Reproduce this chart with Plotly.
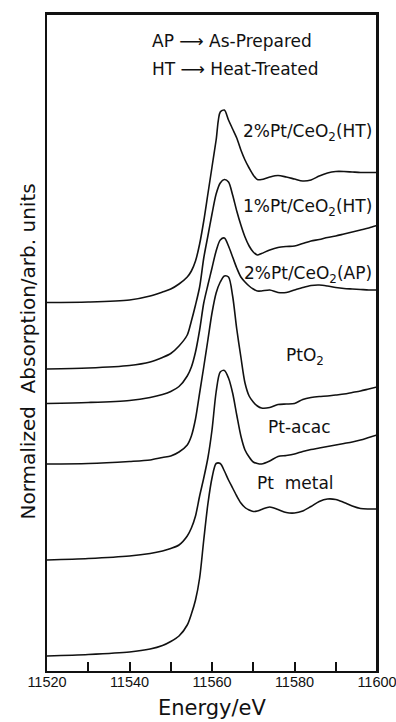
import plotly.graph_objects as go

energy = [11520, 11530, 11540, 11545, 11548, 11550, 11552, 11554, 11555, 11556,
          11557, 11558, 11559, 11560, 11561, 11562, 11563, 11564, 11565, 11566,
          11567, 11568, 11569, 11570, 11571, 11572, 11574, 11576, 11578, 11580,
          11582, 11584, 11586, 11588, 11590, 11592, 11594, 11596, 11598, 11600]

pt2_ceo2_ht = [368.5, 369, 371, 375, 379, 382, 387, 394, 400, 410,
               427, 450, 477, 504, 531, 559, 561, 551, 542, 533,
               521, 511, 503, 496, 491.5, 491.5, 494, 495.5, 494, 492,
               490, 491, 495, 498, 499.5, 499.5, 499, 498.5, 498.5, 498.5]

pt1_ceo2_ht = [302, 303, 305.5, 309, 313.5, 317.5, 325, 336, 350, 366,
               384, 413, 435, 457, 477, 488, 491.5, 489, 476, 460,
               446, 434, 425, 419, 416, 417.5, 421, 423.5, 424.5, 425,
               427.5, 430, 431.5, 433.5, 435, 437, 439, 441, 443, 445.5]

pt2_ceo2_ap = [267.5, 268.5, 270.5, 273.5, 276.5, 279.5, 284.5, 295, 304, 319,
               341, 368, 386, 403, 420, 431, 433, 425, 414, 403,
               394, 389, 385, 382, 380, 380, 381, 378.5, 378.5, 381,
               383.5, 385.5, 386, 385, 383.5, 382.5, 382, 381.5, 381, 381]

pto2 = [207, 207.5, 209.5, 211, 213.5, 215, 219, 226, 235, 252,
        278, 304, 331, 358, 378, 389, 395, 394, 375, 342,
        314, 288, 275, 269, 265, 263, 263.5, 266.5, 267, 267.5,
        271.5, 273.5, 274.5, 275, 276, 277, 278.5, 280, 282, 284]

pt_acac = [111, 112.5, 115, 117.5, 120, 122.5, 126, 135, 143, 155,
           175, 193, 213, 241, 279, 299, 300.5, 293, 278, 256,
           235, 221, 214, 209, 207.5, 207, 210, 214.5, 215.5, 217,
           219.5, 221.5, 223, 224.5, 226, 227.5, 229, 231, 233.5, 236]

pt_metal = [15, 16.5, 19, 22, 25.5, 29.5, 35, 46, 57, 71,
            93, 131, 167, 193, 207.5, 207.5, 200, 191, 183, 175,
            168, 163.5, 161, 159.5, 160, 161.5, 164, 161.5, 158.5, 158,
            160, 164.5, 169.5, 172, 171.5, 168.5, 165, 162.5, 162, 162]

series = [
    ("2%Pt/CeO<sub>2</sub>(HT)", pt2_ceo2_ht),
    ("1%Pt/CeO<sub>2</sub>(HT)", pt1_ceo2_ht),
    ("2%Pt/CeO<sub>2</sub>(AP)", pt2_ceo2_ap),
    ("PtO<sub>2</sub>", pto2),
    ("Pt-acac", pt_acac),
    ("Pt  metal", pt_metal),
]

tick_vals = [11520, 11540, 11560, 11580, 11600]
tick_text = ["11520", "11540", "11560", "11580", "11600"]
minor_tick_vals = [11530, 11550, 11570, 11590]

# label centres (energy, arb. units)
label_pos = [
    (11583.2, 539),
    (11583.2, 464),
    (11583.3, 397),
    (11582.6, 315),
    (11581.3, 244),
    (11580.3, 188),
]

FONT = "DejaVu Sans"
INK = "#111111"

# plot-area geometry in pixels (for paper-coordinate conversions)
L, R, T, B = 46.5, 377.0, 14.0, 671.0


def px_to_paper(x, y):
    return (x - L) / (R - L), (B - y) / (B - T)


fig = go.Figure()
for name, vals in series:
    fig.add_trace(go.Scatter(
        x=energy, y=vals, mode="lines", name=name,
        line=dict(color=INK, width=1.6, shape="spline", smoothing=0.8),
        showlegend=False, hoverinfo="skip"))

for (name, _), (lx, ly) in zip(series, label_pos):
    fig.add_annotation(x=lx, y=ly, xref="x", yref="y", text=name,
                       xanchor="center", yanchor="middle",
                       showarrow=False, font=dict(family=FONT, size=17, color=INK))

ax, ay = px_to_paper(150, 41.5)
fig.add_annotation(x=ax, y=ay, xref="paper", yref="paper",
                   xanchor="left", yanchor="middle",
                   text="AP \u27f6 As-Prepared", showarrow=False,
                   font=dict(family=FONT, size=17, color=INK))
hx, hy = px_to_paper(150, 68.5)
fig.add_annotation(x=hx, y=hy, xref="paper", yref="paper",
                   xanchor="left", yanchor="middle",
                   text="HT \u27f6 Heat-Treated", showarrow=False,
                   font=dict(family=FONT, size=17, color=INK))

yx, yy = px_to_paper(27, 352)
fig.add_annotation(x=yx, y=yy, xref="paper", yref="paper",
                   xanchor="center", yanchor="middle",
                   text="Normalized  Absorption/arb. units", textangle=-90,
                   showarrow=False, font=dict(family=FONT, size=20, color=INK))
ex, ey = px_to_paper(212, 708)
fig.add_annotation(x=ex, y=ey, xref="paper", yref="paper",
                   xanchor="center", yanchor="middle",
                   text="Energy/eV", showarrow=False,
                   font=dict(family=FONT, size=21, color=INK))

# plot frame edges
fig.add_shape(type="line", xref="paper", yref="paper", x0=0, y0=1, x1=1, y1=1,
              line=dict(color=INK, width=2), layer="above")
fig.add_shape(type="line", xref="paper", yref="paper", x0=1, y0=0, x1=1, y1=1,
              line=dict(color=INK, width=2), layer="above")

# minor (unlabelled) ticks on the bottom axis via a second overlaid x axis
fig.add_trace(go.Scatter(x=[11520, 11600], y=[0, 0], xaxis="x2", mode="lines",
                         line=dict(width=0), showlegend=False, hoverinfo="skip"))

fig.update_layout(
    xaxis=dict(range=[11520, 11600], tickvals=tick_vals, ticktext=tick_text,
               ticks="inside", ticklen=9, tickwidth=1.5, tickcolor=INK,
               ticklabeloverflow="allow", ticklabelstandoff=-3, automargin=False,
               showline=True, linecolor=INK, linewidth=1.8, mirror=True,
               showgrid=False, zeroline=False,
               tickfont=dict(family="Liberation Sans", size=14.5, color=INK)),
    xaxis2=dict(range=[11520, 11600], overlaying="x", side="bottom",
                tickvals=minor_tick_vals, showticklabels=False,
                ticks="inside", ticklen=9, tickwidth=1.5, tickcolor=INK,
                showline=False, showgrid=False, zeroline=False, automargin=False),
    yaxis=dict(range=[0, 657], showticklabels=False, ticks="", automargin=False,
               showline=True, linecolor=INK, linewidth=1.8, mirror=True,
               showgrid=False, zeroline=False),
    width=396, height=722,
    margin=dict(l=L, r=396 - R, t=T, b=722 - B, autoexpand=False),
    paper_bgcolor="white", plot_bgcolor="white")

fig.write_html("out.html")
